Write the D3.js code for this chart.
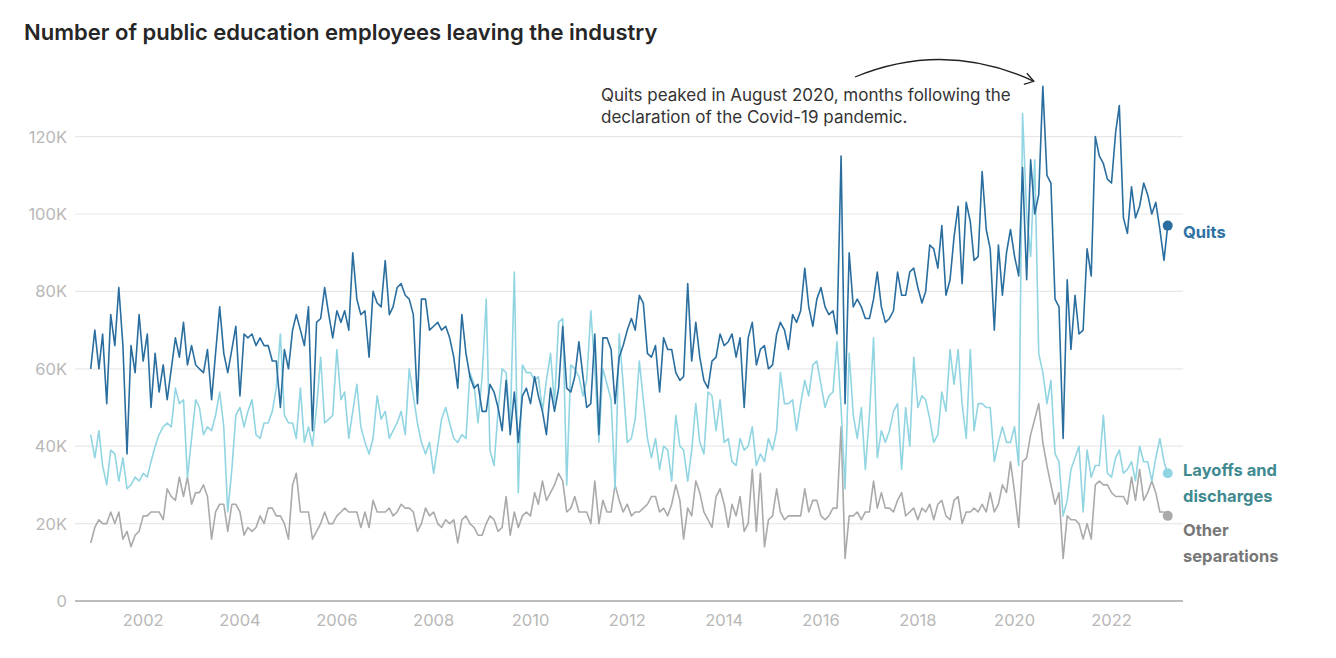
<!DOCTYPE html>
<html>
<head>
<meta charset="utf-8">
<script src="https://cdn.jsdelivr.net/npm/d3@7"></script>
<style>
  html, body { margin: 0; padding: 0; background: #fff; }
  svg { display: block; }
  text { font-family: Inter, "Open Sans", "Liberation Sans", sans-serif; }
</style>
</head>
<body>
<svg id="chart" width="1336" height="658"></svg>
<script>
// ---- DATA (monthly, Dec 2000 – Mar 2023, thousands) ----
const startYear = 2000, startMonthIndex = 11; // December 2000
const quits = [
60,70,60,69,51,74,66,81,66,38,66,59,74,62,69,50,64,54,61,52,60,68,63,72,61,66,61,60,
59,65,52,64,76,64,59,65,71,53,69,68,69,66,68,66,66,62,62,50,65,60,70,74,70,66,76,
44,72,73,81,74,68,75,72,75,70,90,78,74,75,63,80,77,76,88,74,76,81,82,79,78,74,51,
78,78,70,71,72,70,71,68,63,55,74,64,58,55,56,49,49,56,54,50,44,57,43,54,41,53,55,
51,58,53,49,43,55,49,55,71,55,54,58,67,58,50,51,69,43,68,68,65,51,63,66,70,73,70,79,
77,64,63,66,54,68,65,65,59,57,58,82,62,72,63,57,55,62,63,69,66,67,69,63,68,50,68,
72,61,65,66,60,61,69,72,70,65,74,72,75,86,76,71,78,81,76,74,75,69,115,51,90,76,78,76,
73,73,78,85,76,72,73,75,85,79,79,85,86,81,77,80,92,91,86,97,79,83,94,102,82,103,98,
88,89,111,96,91,70,92,79,90,96,89,84,112,83,114,100,105,133,110,108,78,76,42,83,65,79,69,
70,91,84,120,115,113,109,108,121,128,99,95,107,99,102,108,105,100,103,96,88,97
];
const layoffs = [
43,37,44,35,30,39,38,31,37,29,30,32,31,33,32,36,40,43,45,46,45,55,51,52,32,42,52,50,
43,45,44,48,54,45,23,34,48,50,45,49,52,43,42,46,46,49,55,69,48,46,46,42,55,41,45,
40,50,63,46,47,48,65,52,54,42,49,56,45,41,38,42,53,47,49,42,44,46,49,43,60,53,46,
41,38,41,33,40,47,50,46,42,41,43,42,59,56,46,58,78,39,35,49,60,59,45,85,28,61,59,
59,57,58,49,57,64,51,72,73,30,61,60,58,53,57,75,60,41,60,56,52,29,69,56,41,42,47,62,
52,42,37,42,34,40,39,31,48,40,39,31,39,51,41,38,54,53,44,52,41,42,36,35,42,39,40,
45,35,38,36,42,39,44,59,51,51,52,44,51,57,53,61,62,56,50,53,54,67,50,29,64,48,42,50,
34,48,68,37,44,41,44,49,51,34,50,40,63,50,53,52,47,41,43,54,49,65,56,65,51,42,65,
44,51,51,50,50,36,41,45,41,41,45,35,126,100,89,114,64,59,51,57,38,36,22,26,34,37,40,
23,39,32,35,35,48,33,32,37,39,33,34,36,31,40,36,36,31,37,42,36,33
];
const other = [
15,19,21,20,20,23,20,23,16,18,14,17,18,22,22,23,23,23,21,29,27,26,32,27,32,25,28,28,
30,27,16,23,25,25,18,25,25,23,17,19,18,19,22,20,24,24,22,22,20,16,30,33,23,23,23,
16,18,20,23,20,20,22,23,24,23,23,23,19,23,19,26,23,23,23,24,22,23,25,24,24,23,18,
20,24,22,23,20,19,21,20,21,15,21,22,20,19,17,17,20,22,21,18,19,27,17,23,19,22,23,
22,28,25,31,26,28,30,33,31,23,24,27,23,23,23,20,31,20,26,23,23,30,26,23,25,22,23,23,
24,25,27,27,23,24,22,25,30,26,16,24,22,31,28,23,21,19,27,29,25,19,25,22,27,18,20,
34,18,33,14,21,22,29,23,21,22,22,22,22,29,23,26,26,22,21,22,24,24,45,11,22,22,23,21,
23,23,31,24,28,24,24,23,26,28,22,23,24,21,24,23,25,21,25,26,22,21,26,27,20,23,23,
24,23,25,23,28,23,25,30,28,36,28,19,36,37,43,47,51,41,35,30,25,28,11,22,21,21,20,
16,20,16,30,31,30,30,28,27,27,27,25,32,26,34,26,28,31,28,23,23,22
];
const yTicks = [0, 20000, 40000, 60000, 80000, 100000, 120000];
const yTickLabels = ["0", "20K", "40K", "60K", "80K", "100K", "120K"];
const xTickYears = [2002, 2004, 2006, 2008, 2010, 2012, 2014, 2016, 2018, 2020, 2022];
const seriesNames = ["Quits", "Layoffs and discharges", "Other separations"];
const titleText = "Number of public education employees leaving the industry";
const noteLines = ["Quits peaked in August 2020, months following the",
                   "declaration of the Covid-19 pandemic."];

// ---- BUILD ----
const dates = quits.map((_, i) => new Date(startYear, startMonthIndex + i, 1));
const svg = d3.select("#chart");

const x = d3.scaleTime()
  .domain([dates[0], dates[dates.length - 1]])
  .range([90.7, 1167.7]);
const y = d3.scaleLinear().domain([0, 120000]).range([601, 136.6]);

const gridX0 = 75, gridX1 = 1183;

// gridlines
svg.append("g").selectAll("line").data(yTicks.filter(d => d > 0)).join("line")
  .attr("x1", gridX0).attr("x2", gridX1)
  .attr("y1", d => y(d)).attr("y2", d => y(d))
  .attr("stroke", "#e8e8e8").attr("stroke-width", 1.2);

// y labels
svg.append("g").selectAll("text").data(yTicks).join("text")
  .attr("x", 67).attr("y", d => y(d)).attr("dy", "0.36em")
  .attr("text-anchor", "end").attr("fill", "#b8b8b8")
  .attr("font-size", 16.5)
  .text((d, i) => yTickLabels[i]);

// baseline
svg.append("line").attr("x1", gridX0).attr("x2", gridX1)
  .attr("y1", y(0)).attr("y2", y(0))
  .attr("stroke", "#bdbdbd").attr("stroke-width", 2);

// x labels
svg.append("g").selectAll("text").data(xTickYears).join("text")
  .attr("x", d => x(new Date(d, 0, 1))).attr("y", 620).attr("dy", "0.36em")
  .attr("text-anchor", "middle").attr("fill", "#b8b8b8")
  .attr("font-size", 16.5)
  .text(d => String(d));

// lines
const line = d3.line().x((d, i) => x(dates[i])).y(d => y(d * 1000));
const series = [
  { name: seriesNames[2], values: other, color: "#aaaaaa", labelColor: "#777777" },
  { name: seriesNames[1], values: layoffs, color: "#91d5e2", labelColor: "#3f8a90" },
  { name: seriesNames[0], values: quits, color: "#2a6e9f", labelColor: "#2e71a3" }
];
series.forEach(s => {
  svg.append("path").datum(s.values)
    .attr("fill", "none").attr("stroke", s.color)
    .attr("stroke-width", 1.6).attr("stroke-linejoin", "round")
    .attr("d", line);
  const last = s.values.length - 1;
  svg.append("circle")
    .attr("cx", x(dates[last])).attr("cy", y(s.values[last] * 1000))
    .attr("r", 5).attr("fill", s.color);
});

// right labels
const lab = svg.append("g").attr("font-size", 16.5).attr("font-weight", 700);
lab.append("text").attr("x", 1183).attr("y", 232).attr("dy", "0.36em")
  .attr("fill", series[2].labelColor).text("Quits");
lab.append("text").attr("x", 1183).attr("y", 470).attr("dy", "0.36em")
  .attr("fill", series[1].labelColor).text("Layoffs and");
lab.append("text").attr("x", 1183).attr("y", 496).attr("dy", "0.36em")
  .attr("fill", series[1].labelColor).text("discharges");
lab.append("text").attr("x", 1183).attr("y", 530).attr("dy", "0.36em")
  .attr("fill", series[0].labelColor).text("Other");
lab.append("text").attr("x", 1183).attr("y", 556).attr("dy", "0.36em")
  .attr("fill", series[0].labelColor).text("separations");

// title
svg.append("text").attr("x", 24).attr("y", 40)
  .attr("font-size", 22).attr("font-weight", 600).attr("fill", "#262626")
  .text(titleText);

// annotation
const note = svg.append("g").attr("font-size", 17).attr("fill", "#333");
noteLines.forEach((t, i) => {
  note.append("text").attr("x", 601).attr("y", 95 + i * 22).attr("dy", "0.36em").text(t);
});

// arrow
const peakIdx = quits.indexOf(d3.max(quits));
const tipX = x(dates[peakIdx]) - 9, tipY = y(quits[peakIdx] * 1000) - 5;
svg.append("path")
  .attr("d", `M855,77 Q945,40 ${tipX},${tipY}`)
  .attr("fill", "none").attr("stroke", "#222").attr("stroke-width", 1.3);
svg.append("path")
  .attr("d", `M${tipX - 7},${tipY - 8} L${tipX},${tipY} L${tipX - 10},${tipY + 3}`)
  .attr("fill", "none").attr("stroke", "#222").attr("stroke-width", 1.3);
</script>
</body>
</html>
